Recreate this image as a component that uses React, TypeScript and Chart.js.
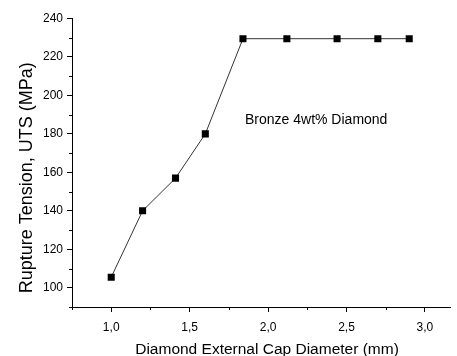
import React, { useEffect, useRef } from "react";
import { Chart, registerables } from "chart.js";

Chart.register(...registerables);

// ---- data ----
const diameters = [1.0, 1.2, 1.41, 1.6, 1.84, 2.12, 2.44, 2.7, 2.9];
const uts = [105.5, 140, 157, 180, 229.5, 229.5, 229.5, 229.5, 229.5];
const xTicks = [1.0, 1.5, 2.0, 2.5, 3.0];
const xMinorTicks = [0.75, 1.25, 1.75, 2.25, 2.75];
const yTicks = [100, 120, 140, 160, 180, 200, 220, 240];
const yMinorTicks = [90, 110, 130, 150, 170, 190, 210, 230];
const xTitle = "Diamond External Cap Diameter (mm)";
const yTitle = "Rupture Tension, UTS (MPa)";
const annotationText = "Bronze 4wt% Diamond";

const FONT = '"Liberation Sans", Arial, sans-serif';

export default function App() {
  const ref = useRef<HTMLCanvasElement | null>(null);

  useEffect(() => {
    if (!ref.current) return;

    const extras = {
      id: "extras",
      afterDraw(chart: any) {
        const ctx = chart.ctx;
        const xs = chart.scales.x;
        const ys = chart.scales.y;
        const area = chart.chartArea;
        ctx.save();
        ctx.strokeStyle = "#000";
        ctx.lineWidth = 1;
        ctx.beginPath();
        for (const v of xMinorTicks) {
          const px = Math.round(xs.getPixelForValue(v)) + 0.5;
          ctx.moveTo(px, area.bottom);
          ctx.lineTo(px, area.bottom + 3);
        }
        for (const v of yMinorTicks) {
          const py = Math.round(ys.getPixelForValue(v)) + 0.5;
          ctx.moveTo(area.left - 3, py);
          ctx.lineTo(area.left, py);
        }
        ctx.stroke();

        ctx.fillStyle = "#000";
        // annotation
        ctx.font = `14px ${FONT}`;
        ctx.textAlign = "left";
        ctx.textBaseline = "middle";
        ctx.fillText(annotationText, xs.getPixelForValue(1.853), ys.getPixelForValue(187));

        // x title
        ctx.font = `15.5px ${FONT}`;
        ctx.textAlign = "center";
        ctx.textBaseline = "middle";
        ctx.fillText(xTitle, (area.left + area.right) / 2 + 6, area.bottom + 43);

        // y title
        ctx.font = `18px ${FONT}`;
        ctx.translate(27, (area.top + area.bottom) / 2 + 15);
        ctx.rotate(-Math.PI / 2);
        ctx.fillText(yTitle, 0, 0);
        ctx.restore();
      },
    };

    const chart = new Chart(ref.current, {
      type: "scatter",
      data: {
        datasets: [
          {
            data: diameters.map((d, i) => ({ x: d, y: uts[i] })),
            showLine: true,
            borderColor: "#333",
            borderWidth: 1,
            pointStyle: "rect",
            pointRadius: 5,
            pointBackgroundColor: "#000",
            pointBorderColor: "#000",
            pointBorderWidth: 0,
          },
        ],
      },
      options: {
        animation: false,
        responsive: false,
        devicePixelRatio: 1,
        layout: { padding: { top: 18.5, right: 7, left: 0, bottom: 0 } },
        plugins: { legend: { display: false }, tooltip: { enabled: false } },
        scales: {
          x: {
            type: "linear",
            min: 0.75,
            max: 3.16,
            afterBuildTicks: (s: any) => {
              s.ticks = xTicks.map((v) => ({ value: v }));
            },
            afterFit: (s: any) => {
              s.height = 49;
            },
            grid: { drawOnChartArea: false, drawTicks: true, tickLength: 5, color: "#000" },
            border: { display: true, color: "#000", width: 1 },
            ticks: {
              font: { family: FONT, size: 12 },
              color: "#000",
              padding: 8,
              maxRotation: 0,
              callback: (v: any) => Number(v).toFixed(1).replace(".", ","),
            },
          },
          y: {
            type: "linear",
            min: 90,
            max: 240,
            afterBuildTicks: (s: any) => {
              s.ticks = yTicks.map((v) => ({ value: v }));
            },
            afterFit: (s: any) => {
              s.width = 72;
            },
            grid: { drawOnChartArea: false, drawTicks: true, tickLength: 5, color: "#000" },
            border: { display: true, color: "#000", width: 1 },
            ticks: {
              font: { family: FONT, size: 12 },
              color: "#000",
              padding: 4,
              callback: (v: any) => String(v),
            },
          },
        },
      },
      plugins: [extras],
    });
    return () => chart.destroy();
  }, []);

  return (
    <div style={{ position: "absolute", left: 0, top: 0, width: 457, height: 356, background: "#fff" }}>
      <canvas ref={ref} width={457} height={356} style={{ display: "block" }} />
    </div>
  );
}
